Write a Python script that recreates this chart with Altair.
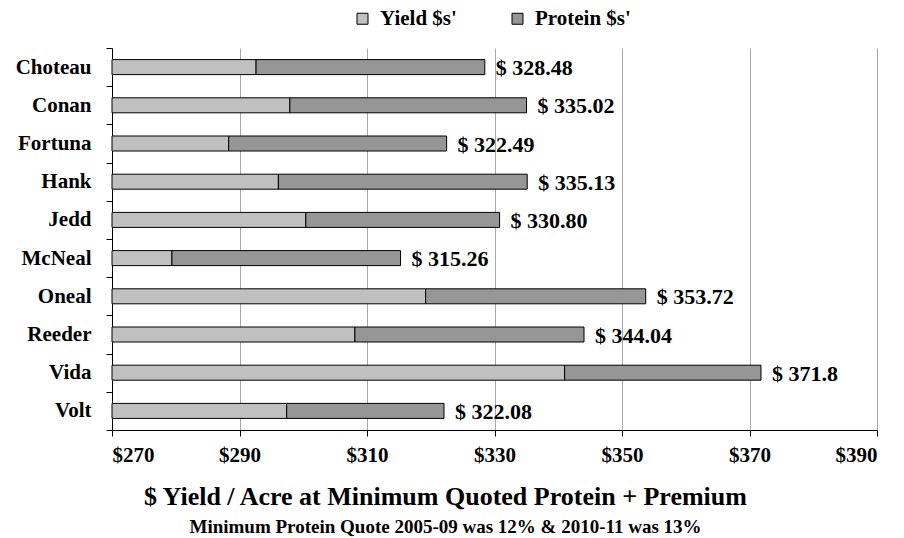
import altair as alt
import pandas as pd

# Wheat varieties, yield value and yield + protein premium total ($/acre)
varieties = ["Choteau", "Conan", "Fortuna", "Hank", "Jedd",
             "McNeal", "Oneal", "Reeder", "Vida", "Volt"]
yield_dollars = [292.6, 297.9, 288.3, 296.1, 300.4,
                 279.4, 319.2, 308.1, 341.0, 297.4]
total_dollars = [328.48, 335.02, 322.49, 335.13, 330.80,
                 315.26, 353.72, 344.04, 371.8, 322.08]
total_labels = ["$ 328.48", "$ 335.02", "$ 322.49", "$ 335.13", "$ 330.80",
                "$ 315.26", "$ 353.72", "$ 344.04", "$ 371.8", "$ 322.08"]
x_ticks = [270, 290, 310, 330, 350, 370, 390]
series = ["Yield $s'", "Protein $s'"]
series_colors = ["#c0c0c0", "#969696"]

AXIS_MIN, AXIS_MAX = 270, 390
FONT = "Liberation Serif"

rows = []
for v, y, t in zip(varieties, yield_dollars, total_dollars):
    rows.append({"variety": v, "series": series[0], "start": AXIS_MIN, "end": y})
    rows.append({"variety": v, "series": series[1], "start": y, "end": t})
segments = pd.DataFrame(rows)
totals = pd.DataFrame({"variety": varieties, "total": total_dollars, "label": total_labels})

y_enc = alt.Y(
    "variety:N",
    sort=varieties,
    scale=alt.Scale(paddingInner=0, paddingOuter=0),
    axis=alt.Axis(
        title=None, labelFont=FONT, labelFontSize=21, labelFontWeight="bold",
        labelColor="black", labelPadding=15, tickBand="extent", ticks=True,
        tickSize=6, tickColor="black", domainColor="black", grid=False,
    ),
)

x_scale = alt.Scale(domain=[AXIS_MIN, AXIS_MAX], nice=False, zero=False)

bars = alt.Chart(segments).mark_bar(size=15, stroke="black", strokeWidth=1).encode(
    x=alt.X(
        "start:Q", scale=x_scale,
        axis=alt.Axis(
            values=x_ticks, labelExpr="'$' + datum.value", title=None,
            labelFont=FONT, labelFontSize=21, labelFontWeight="bold",
            labelColor="black", labelPadding=8, tickSize=6, tickColor="black",
            domainColor="black", grid=True, gridColor="#a8a8a8", gridWidth=1,
        ),
    ),
    x2="end:Q",
    y=y_enc,
    color=alt.Color(
        "series:N",
        scale=alt.Scale(domain=series, range=series_colors),
        sort=series,
        legend=alt.Legend(
            title=None, orient="none", direction="horizontal",
            legendX=240, legendY=-40, symbolType="square", symbolSize=121,
            symbolStrokeColor="black", symbolStrokeWidth=1, symbolOpacity=1,
            labelFont=FONT, labelFontSize=21, labelFontWeight="bold",
            labelColor="black", labelOffset=7, columnPadding=50,
        ),
    ),
)

labels = alt.Chart(totals).mark_text(
    align="left", baseline="middle", dx=11, dy=1,
    font=FONT, fontSize=22, fontWeight="bold", color="black",
).encode(
    x=alt.X("total:Q", scale=x_scale),
    y=alt.Y("variety:N", sort=varieties),
    text="label:N",
)

chart = alt.layer(bars, labels).properties(
    width=765,
    height=382,
    padding={"left": 112, "top": 48, "right": 27, "bottom": 108},
    autosize=alt.AutoSizeParams(type="none"),
    title=alt.TitleParams(
        text="$ Yield / Acre at Minimum Quoted Protein + Premium",
        subtitle="Minimum Protein Quote 2005-09 was 12% & 2010-11 was 13%",
        orient="bottom", anchor="middle", dx=-49, offset=19,
        font=FONT, fontSize=26, fontWeight="bold", color="black",
        subtitleFont=FONT, subtitleFontSize=19, subtitleFontWeight="bold",
        subtitleColor="black", subtitlePadding=8,
    ),
).configure_view(stroke=None)

chart.save("out.html", embed_options={"renderer": "svg", "actions": False})
